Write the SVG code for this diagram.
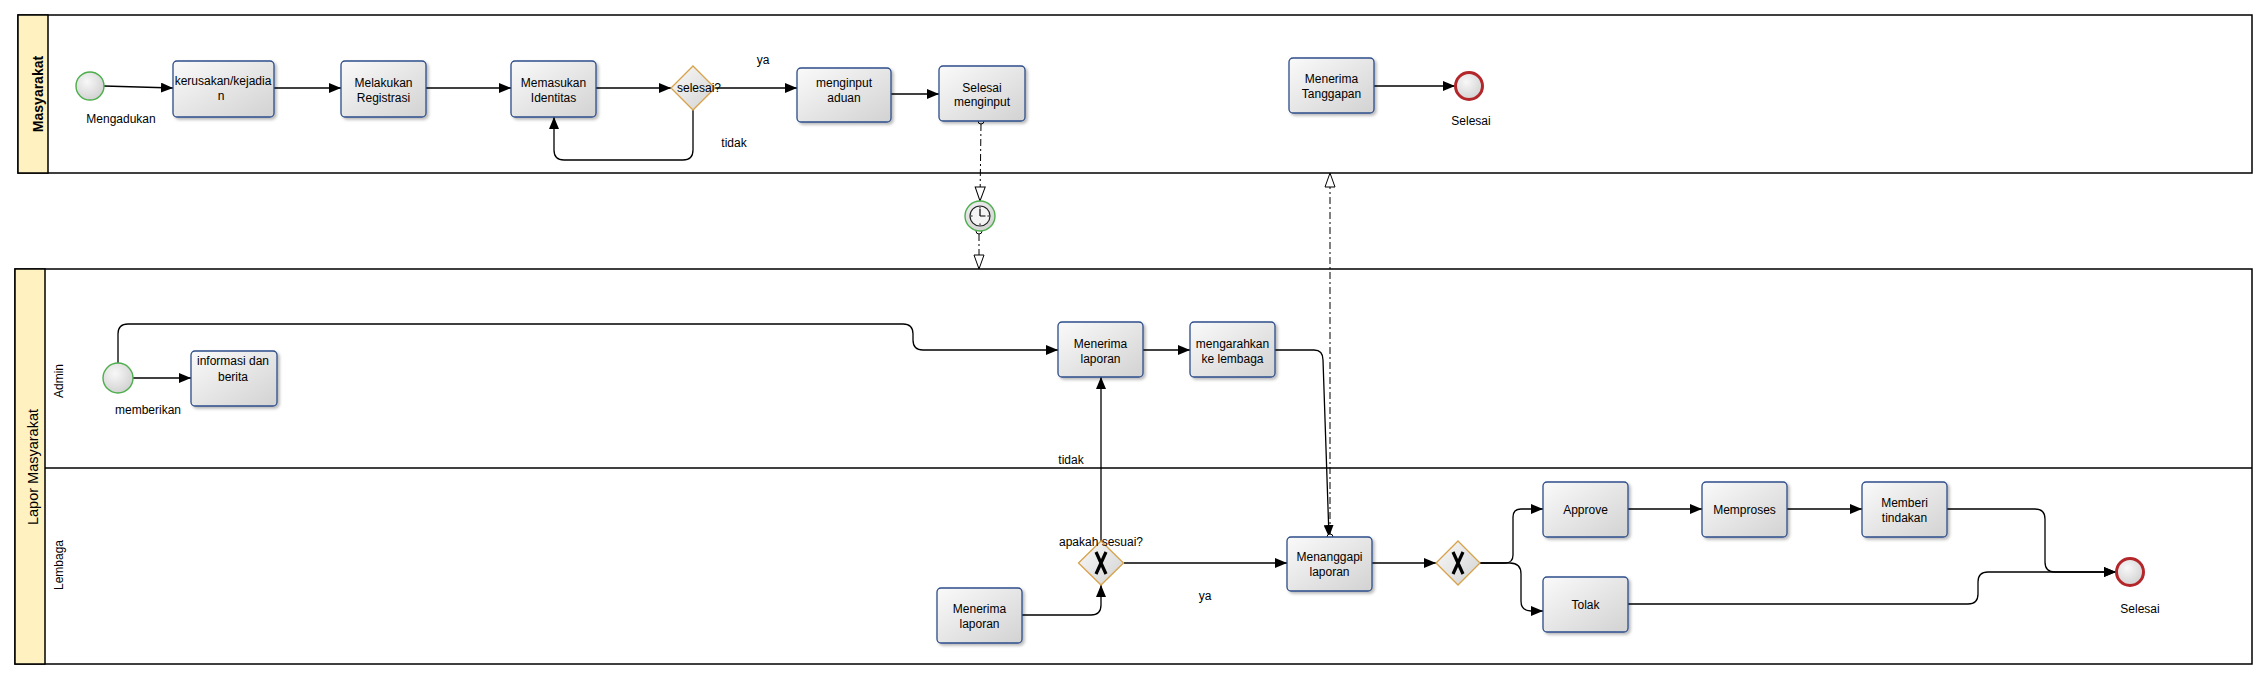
<svg xmlns="http://www.w3.org/2000/svg" width="2267" height="680" viewBox="0 0 2267 680">
<defs>
<linearGradient id="gTask" x1="0" y1="0" x2="1" y2="1">
<stop offset="0" stop-color="#fafafa"/>
<stop offset="1" stop-color="#d2d2d2"/>
</linearGradient>
<radialGradient id="gEv" cx="0.4" cy="0.35" r="0.7">
<stop offset="0" stop-color="#f8f8f8"/>
<stop offset="1" stop-color="#d0d0d0"/>
</radialGradient>
<filter id="sh" x="-10%" y="-10%" width="130%" height="140%">
<feDropShadow dx="2" dy="2" stdDeviation="1.6" flood-color="#000" flood-opacity="0.28"/>
</filter>
<marker id="arr" viewBox="0 0 12 10" refX="12" refY="5" markerWidth="12" markerHeight="10" markerUnits="userSpaceOnUse" orient="auto">
<path d="M0,0 L12,5 L0,10 z" fill="#000"/>
</marker>
<marker id="hol" viewBox="0 0 16 12" refX="15" refY="6" markerWidth="16" markerHeight="12" markerUnits="userSpaceOnUse" orient="auto">
<path d="M1,1 L15,6 L1,11 z" fill="#fff" stroke="#000" stroke-width="1"/>
</marker>
<style>
text{font-family:"Liberation Sans",Arial,sans-serif;font-size:12px;fill:#000}
.c{text-anchor:middle}
.pool{fill:#fff;stroke:#000;stroke-width:1.5}
.hdr{fill:#fff2c0;stroke:#000;stroke-width:1.5}
.lane{stroke:#000;stroke-width:1.5;fill:none}
.task{fill:url(#gTask);stroke:#2d4d8a;stroke-width:1.3;filter:url(#sh)}
.start{fill:url(#gEv);stroke:#4cae4c;stroke-width:1.4}
.end{fill:url(#gEv);stroke:#b3262a;stroke-width:3}
.gw{fill:url(#gTask);stroke:#d6a24a;stroke-width:1.3}
.flow{fill:none;stroke:#000;stroke-width:1.3;marker-end:url(#arr)}
.msg{fill:none;stroke:#000;stroke-width:1;stroke-dasharray:7,3,2,3;marker-end:url(#hol)}
.dot{fill:#fff;stroke:#000;stroke-width:1}
.xm{stroke:#000;stroke-width:3.2;fill:none}
</style>
</defs>

<!-- Pools and lanes -->
<g id="pool-masyarakat">
<rect class="pool" x="18" y="15" width="2234" height="158"/>
<rect class="hdr" x="18" y="15" width="30" height="158"/>
<text transform="translate(43,94) rotate(-90)" class="c" style="font-size:14px;font-weight:bold">Masyarakat</text>
</g>
<g id="pool-lapor">
<rect class="pool" x="15" y="269" width="2237" height="395"/>
<rect class="hdr" x="15" y="269" width="30" height="395"/>
<text transform="translate(38,467) rotate(-90)" class="c" style="font-size:14.5px">Lapor Masyarakat</text>
<line class="lane" x1="45" y1="468" x2="2252" y2="468"/>
<text transform="translate(63,381) rotate(-90)" class="c">Admin</text>
<text transform="translate(63,565) rotate(-90)" class="c">Lembaga</text>
</g>

<!-- Connectors -->
<g id="connectors">
<path class="flow" d="M104,86 L173,88"/>
<path class="flow" d="M274,88 H341"/>
<path class="flow" d="M426,88 H511"/>
<path class="flow" d="M596,88 H671"/>
<path class="flow" d="M715,88 H797"/>
<path class="flow" d="M891,94 H939"/>
<path class="flow" d="M693,110 V150 Q693,160 683,160 H564 Q554,160 554,150 V117"/>
<path class="flow" d="M1374,86 H1455"/>
<path class="flow" d="M133,378 H191"/>
<path class="flow" d="M118,363 V334 Q118,324 128,324 H903 Q913,324 913,334 V340 Q913,350 923,350 H1058"/>
<path class="flow" d="M1143,350 H1190"/>
<path class="flow" d="M1275,350 H1314 Q1323,350 1323,360 L1329,537"/>
<path class="flow" d="M1022,615 H1091 Q1101,615 1101,605 V585"/>
<path class="flow" d="M1101,541 V377"/>
<path class="flow" d="M1124,563 H1287"/>
<path class="flow" d="M1372,563 H1436"/>
<path class="flow" d="M1480,563 H1505 Q1513,563 1513,555 V517 Q1513,509 1521,509 H1543"/>
<path class="flow" d="M1480,563 H1510 Q1521,563 1521,574 V601 Q1521,611 1531,611 H1543"/>
<path class="flow" d="M1628,509 H1702"/>
<path class="flow" d="M1787,509 H1862"/>
<path class="flow" d="M1947,509 H2035 Q2045,509 2045,519 V562 Q2045,572 2055,572 H2116"/>
<path class="flow" d="M1628,604 H1968 Q1978,604 1978,594 V582 Q1978,572 1988,572 H2116"/>
<path class="msg" d="M981,124 L980,201"/>
<path class="msg" d="M979,234 V269"/>
<path class="msg" d="M1330,534 V173"/>
<circle class="dot" cx="981" cy="121" r="3"/>
<circle class="dot" cx="979" cy="231" r="3"/>
<circle class="dot" cx="1330" cy="537" r="3"/>
<text class="c" x="763" y="64">ya</text>
<text class="c" x="734" y="147">tidak</text>
<text class="c" x="1071" y="464">tidak</text>
<text class="c" x="1205" y="600">ya</text>
</g>

<!-- Masyarakat nodes -->
<g id="start-mengadukan">
<circle class="start" cx="90" cy="86" r="14"/>
<text class="c" x="121" y="123">Mengadukan</text>
</g>
<g id="task-kerusakan">
<rect class="task" x="173" y="61" width="101" height="56" rx="4"/>
<text class="c" x="223" y="85">kerusakan/kejadia</text>
<text class="c" x="221" y="99.5">n</text>
</g>
<g id="task-registrasi">
<rect class="task" x="341" y="61" width="85" height="56" rx="4"/>
<text class="c" x="383.5" y="86.5">Melakukan</text>
<text class="c" x="383.5" y="101.5">Registrasi</text>
</g>
<g id="task-identitas">
<rect class="task" x="511" y="61" width="85" height="56" rx="4"/>
<text class="c" x="553.5" y="86.5">Memasukan</text>
<text class="c" x="553.5" y="101.5">Identitas</text>
</g>
<g id="gw-selesai">
<path class="gw" d="M693,66 L715,88 L693,110 L671,88 Z"/>
<text class="c" x="699" y="92">selesai?</text>
</g>
<g id="task-menginput">
<rect class="task" x="797" y="68" width="94" height="54" rx="4"/>
<text class="c" x="844" y="87">menginput</text>
<text class="c" x="844" y="102">aduan</text>
</g>
<g id="task-selesai-menginput">
<rect class="task" x="939" y="66" width="86" height="55" rx="4"/>
<text class="c" x="982" y="91.5">Selesai</text>
<text class="c" x="982" y="106">menginput</text>
</g>
<g id="task-menerima-tanggapan">
<rect class="task" x="1289" y="58" width="85" height="55" rx="4"/>
<text class="c" x="1331.5" y="83">Menerima</text>
<text class="c" x="1331.5" y="98">Tanggapan</text>
</g>
<g id="end-selesai-1">
<circle class="end" cx="1469" cy="86" r="13.5"/>
<text class="c" x="1471" y="125">Selesai</text>
</g>

<!-- Timer -->
<g id="timer">
<circle class="start" cx="980" cy="216" r="15"/>
<circle cx="980" cy="216" r="10" fill="#f4f4f4" stroke="#222" stroke-width="1.2"/>
<path d="M980,216 V209 M980,216 H985.5" stroke="#000" stroke-width="1.2" fill="none"/>
<path d="M980,206.8 V208.6 M980,223.4 V225.2 M970.8,216 H972.6 M987.4,216 H989.2" stroke="#000" stroke-width="0.9"/>
</g>

<!-- Admin lane -->
<g id="start-memberikan">
<circle class="start" cx="118" cy="378" r="15"/>
<text class="c" x="148" y="414">memberikan</text>
</g>
<g id="task-informasi">
<rect class="task" x="191" y="351" width="86" height="55" rx="4"/>
<text class="c" x="233" y="365">informasi dan</text>
<text class="c" x="233" y="381">berita</text>
</g>
<g id="task-menerima-laporan-admin">
<rect class="task" x="1058" y="322" width="85" height="55" rx="4"/>
<text class="c" x="1100.5" y="348">Menerima</text>
<text class="c" x="1100.5" y="362.5">laporan</text>
</g>
<g id="task-mengarahkan">
<rect class="task" x="1190" y="322" width="85" height="55" rx="4"/>
<text class="c" x="1232.5" y="348">mengarahkan</text>
<text class="c" x="1232.5" y="362.5">ke lembaga</text>
</g>

<!-- Lembaga lane -->
<g id="task-menerima-laporan-lembaga">
<rect class="task" x="937" y="588" width="85" height="55" rx="4"/>
<text class="c" x="979.5" y="613">Menerima</text>
<text class="c" x="979.5" y="628">laporan</text>
</g>
<g id="gw-apakah-sesuai">
<path class="gw" d="M1101,541 L1123.5,563 L1101,585 L1078.5,563 Z"/>
<path class="xm" d="M1096,552 L1106,574 M1106,552 L1096,574"/>
<text class="c" x="1101" y="546">apakah sesuai?</text>
</g>
<g id="task-menanggapi">
<rect class="task" x="1287" y="537" width="85" height="54" rx="4"/>
<text class="c" x="1329.5" y="561">Menanggapi</text>
<text class="c" x="1329.5" y="576">laporan</text>
</g>
<g id="gw-approve">
<path class="gw" d="M1458,541 L1480,563 L1458,585 L1436,563 Z"/>
<path class="xm" d="M1453,552 L1463,574 M1463,552 L1453,574"/>
</g>
<g id="task-approve">
<rect class="task" x="1543" y="482" width="85" height="55" rx="4"/>
<text class="c" x="1585.5" y="514">Approve</text>
</g>
<g id="task-memproses">
<rect class="task" x="1702" y="482" width="85" height="55" rx="4"/>
<text class="c" x="1744.5" y="514">Memproses</text>
</g>
<g id="task-memberi-tindakan">
<rect class="task" x="1862" y="482" width="85" height="55" rx="4"/>
<text class="c" x="1904.5" y="507">Memberi</text>
<text class="c" x="1904.5" y="521.5">tindakan</text>
</g>
<g id="task-tolak">
<rect class="task" x="1543" y="577" width="85" height="55" rx="4"/>
<text class="c" x="1585.5" y="608.5">Tolak</text>
</g>
<g id="end-selesai-2">
<circle class="end" cx="2130" cy="572" r="13.5"/>
<text class="c" x="2140" y="613">Selesai</text>
</g>
</svg>
